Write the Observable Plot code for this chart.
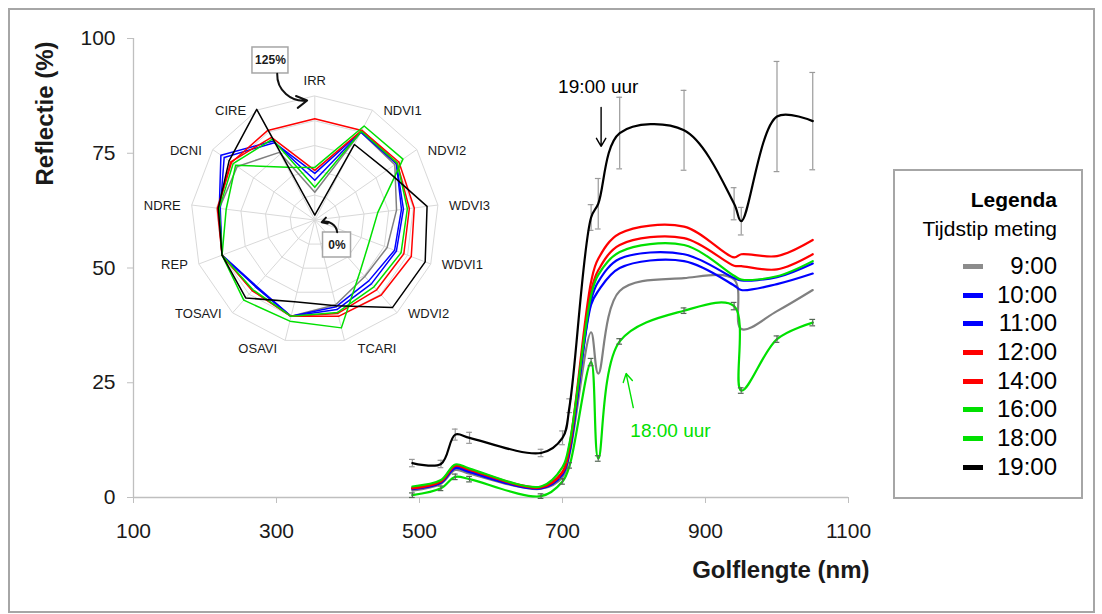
<!DOCTYPE html>
<html><head><meta charset="utf-8">
<script src="https://cdn.jsdelivr.net/npm/d3@7"></script>
<script src="https://cdn.jsdelivr.net/npm/@observablehq/plot@0.6"></script>
<style>
body{margin:0;background:#fff;font-family:"Liberation Sans",Arial,Helvetica,sans-serif;}
#wrap{position:relative;width:1102px;height:614px;overflow:hidden;background:#fff}
#frame{position:absolute;left:8px;top:8px;width:1087px;height:605px;border:2px solid #a6a6a6;box-sizing:border-box}
#main{position:absolute;left:0;top:0}
#radar{position:absolute;left:130px;top:40px}
#legend{position:absolute;left:893px;top:169px;width:190px;height:330px;border:2px solid #a6a6a6;box-sizing:border-box;background:#fff;padding:14px 24px 0 0;color:#000}
.lh{font-weight:bold;font-size:21px;line-height:29px;text-align:right}
.ls{font-size:21px;line-height:29px;text-align:right;margin-bottom:9px}
.li{display:flex;justify-content:flex-end;align-items:center;height:28.7px;font-size:24px}
.sw{width:20px;height:5px;margin-right:11px}
.lt{width:63px;text-align:right;line-height:28.7px}
svg{overflow:visible}
</style></head><body>
<div id="wrap"><div id="frame"></div><div id="main"></div><div id="radar"></div><div id="legend"></div></div>
<script>
const FONT = '"Liberation Sans", Arial, Helvetica, sans-serif';

// ---- data ----
const times = ["9:00","10:00","11:00","12:00","14:00","16:00","18:00","19:00"];
const colors = ["#808080","#0000ff","#0000ff","#ff0000","#ff0000","#00e000","#00e000","#000000"];
const xTicks = [100, 300, 500, 700, 900, 1100];
const yTicks = [0, 25, 50, 75, 100];

const wavelengths = [490, 530, 550, 570, 670, 700, 710, 740, 750, 780, 870, 940, 950, 1000, 1050];
const r0900 = [1.5, 3.0, 6.0, 5.2, 1.9, 4.4, 9.5, 36.0, 27.0, 45.0, 47.8, 47.5, 36.7, 40.6, 45.2];
const r1000 = [1.8, 3.2, 6.4, 5.5, 2.0, 5.0, 10.0, 42.0, 45.0, 50.0, 51.5, 46.2, 45.2, 46.5, 48.8];
const r1100 = [2.0, 3.4, 6.7, 5.8, 2.1, 5.2, 10.5, 43.0, 47.0, 52.0, 53.0, 47.8, 47.3, 48.0, 51.0];
const r1200 = [2.0, 3.5, 6.9, 6.0, 2.2, 5.5, 11.0, 45.0, 49.5, 55.0, 56.5, 50.5, 50.4, 49.7, 53.0];
const r1400 = [2.1, 3.6, 7.0, 6.1, 2.3, 5.6, 11.5, 47.0, 52.0, 57.5, 59.0, 52.3, 53.0, 52.6, 56.1];
const r1600 = [2.4, 3.8, 7.2, 6.3, 2.4, 6.6, 12.0, 44.0, 48.5, 53.5, 55.0, 48.3, 47.5, 48.2, 51.5];
const r1800 = [0.5, 2.0, 4.5, 4.0, 0.3, 3.5, 7.0, 29.5, 8.5, 34.0, 40.7, 41.7, 23.3, 34.5, 38.1];
const r1900 = [7.5, 7.3, 13.7, 13.0, 9.7, 13.0, 20.0, 61.0, 64.0, 79.4, 80.0, 64.0, 60.2, 83.0, 82.0];
const e1800 = [0.5, 0.5, 0.6, 0.6, 0.5, 0.6, 0.6, 0.8, 0.6, 0.6, 0.6, 0.8, 0.6, 0.7, 0.7];
const e1900 = [0.8, 0.8, 1.2, 1.2, 0.8, 1.5, 1.5, 2.8, 5.5, 7.8, 8.7, 3.5, 3.0, 12.0, 10.6];
const spectra = [r0900, r1000, r1100, r1200, r1400, r1600, r1800, r1900];

const radarAxes = ["IRR","NDVI1","NDVI2","WDVI3","WDVI1","WDVI2","TCARI","OSAVI","TOSAVI","REP","NDRE","DCNI","CIRE"];
const q0900 = [28, 100, 98, 83, 78, 76, 88, 100, 90, 100, 97, 95, 77];
const q1000 = [40, 100, 100, 88, 86, 82, 90, 100, 89, 100, 97, 115, 90];
const q1100 = [47, 101, 100, 90, 88, 86, 93, 100, 90, 100, 96, 111, 88];
const q1200 = [50, 102, 101, 96, 96, 94, 97, 100, 95, 100, 98, 103, 94];
const q1400 = [102, 102, 103, 101, 104, 101, 100, 100, 95, 100, 99, 102, 102];
const q1600 = [33, 101, 101, 94, 93, 90, 96, 100, 94, 100, 97, 100, 92];
const q1800 = [53, 107, 108, 64, 59, 69, 112, 105, 108, 100, 90, 97, 60];
const q1900 = [5, 86, 88, 114, 119, 118, 89, 85, 105, 100, 98, 105, 126];
const radarSeries = [q0900, q1000, q1100, q1200, q1400, q1600, q1800, q1900];
const radarRings = [25, 50, 75, 100, 125];

// annotations (data units)
const mainNotes = [
  {label: "19:00 uur", color: "#000000", tx: 750, ty: 89.5, x1: 754, y1: 85, x2: 754, y2: 76.5},
  {label: "18:00 uur", color: "#00e000", tx: 851, ty: 14.6, x1: 799, y1: 19.6, x2: 789, y2: 27.0}
];
const radarNotes = [
  {label: "125%", bx: -44.7, by: 160.8, w: 36, h: 26, x1: -37.9, y1: 147.4, x2: -7.7, y2: 120.5},
  {label: "0%", bx: 22.4, by: -25.2, w: 28, h: 25, x1: 22.6, y1: -12.3, x2: 7.0, y2: -2.2}
];

// ---- main chart ----
const errRows = (vals, errs) => wavelengths.map((w, j) => ({nm: w, lo: vals[j] - errs[j], hi: vals[j] + errs[j]}));
const err19 = errRows(r1900, e1900);
const err18 = errRows(r1800, e1800);
const errMarks = (rows, c) => [
  Plot.ruleX(rows, {x: "nm", y1: "lo", y2: "hi", stroke: c, strokeWidth: 1.2}),
  Plot.ruleY(rows, {y: "lo", x1: d => d.nm - 4, x2: d => d.nm + 4, stroke: c, strokeWidth: 1.2}),
  Plot.ruleY(rows, {y: "hi", x1: d => d.nm - 4, x2: d => d.nm + 4, stroke: c, strokeWidth: 1.2})
];

const main = Plot.plot({
  width: 1102, height: 614,
  marginLeft: 133, marginRight: 254, marginTop: 38, marginBottom: 117,
  x: {domain: [100, 1100]},
  y: {domain: [0, 100]},
  style: {background: "transparent", fontFamily: FONT, color: "#1a1a1a", overflow: "visible"},
  marks: [
    Plot.ruleY([0], {stroke: "#bfbfbf", strokeWidth: 1.3}),
    Plot.ruleX([100], {stroke: "#bfbfbf", strokeWidth: 1.3}),
    Plot.axisX(xTicks, {tickSize: 6, tickPadding: 20, stroke: "#bfbfbf", fill: "#1a1a1a", fontSize: 21, tickFormat: d => String(d), label: null}),
    Plot.axisY(yTicks, {tickSize: 6, tickPadding: 12, stroke: "#bfbfbf", fill: "#1a1a1a", fontSize: 21, tickFormat: d => String(d), label: null}),
    Plot.text(["Reflectie (%)"], {text: d => d, frameAnchor: "top-left", textAnchor: "middle", lineAnchor: "middle", dx: -88, dy: 75, rotate: -90, fontWeight: "bold", fontSize: 24, fill: "#1a1a1a"}),
    Plot.text(["Golflengte (nm)"], {text: d => d, frameAnchor: "bottom-right", textAnchor: "end", lineAnchor: "middle", dx: 21, dy: 73, fontWeight: "bold", fontSize: 24, fill: "#1a1a1a"}),
    ...errMarks(err19, "#9a9a9a"),
    ...spectra.map((s, i) => Plot.line(wavelengths, {x: d => d, y: (d, j) => s[j], stroke: colors[i], strokeWidth: 2.2, curve: "catmull-rom"})),
    ...errMarks(err18, "#556655"),
    Plot.text(mainNotes, {x: "tx", y: "ty", text: "label", fill: "color", fontSize: 19}),
    Plot.arrow(mainNotes, {x1: "x1", y1: "y1", x2: "x2", y2: "y2", stroke: "color", strokeWidth: 1.4, headLength: 10})
  ]
});
document.getElementById("main").appendChild(main);

// ---- radar ----
const N = radarAxes.length;
const ang = i => i * 2 * Math.PI / N;
const px = (v, i) => v * Math.sin(ang(i));
const py = (v, i) => v * Math.cos(ang(i));
const ringRows = radarRings.flatMap(v => radarAxes.map((a, i) => ({ring: v, x: px(v, i), y: py(v, i)})));
const labelRows = radarAxes.map((a, i) => ({a, s: Math.sin(ang(i)), c: Math.cos(ang(i)), x: px(125, i), y: py(125, i)}));
const K = 124 / 125;
const RW = 380, RH = 330, CX = 184.3, CY = 179.5;

const radar = Plot.plot({
  width: RW, height: RH, margin: 0,
  x: {domain: [-CX / K, (RW - CX) / K], axis: null},
  y: {domain: [-(RH - CY) / K, CY / K], axis: null},
  style: {background: "transparent", fontFamily: FONT, overflow: "visible"},
  marks: [
    Plot.line(ringRows, {x: "x", y: "y", z: "ring", curve: "linear-closed", stroke: "#d9d9d9", strokeWidth: 1}),
    Plot.link(labelRows, {x1: () => 0, y1: () => 0, x2: "x", y2: "y", stroke: "#d9d9d9", strokeWidth: 1}),
    ...radarSeries.map((s, k) => Plot.line(s, {x: (v, i) => px(v, i), y: (v, i) => py(v, i), curve: "linear-closed", stroke: colors[k], strokeWidth: 1.5})),
    Plot.text(labelRows.filter(d => Math.abs(d.s) < 0.1), {x: "x", y: "y", text: "a", textAnchor: "middle", dy: -15, fontSize: 13, fill: "#1a1a1a"}),
    Plot.text(labelRows.filter(d => d.s > 0.1 && d.c > -0.9), {x: "x", y: "y", text: "a", textAnchor: "start", dx: 11, dy: 1, fontSize: 13, fill: "#1a1a1a"}),
    Plot.text(labelRows.filter(d => d.s < -0.1 && d.c > -0.9), {x: "x", y: "y", text: "a", textAnchor: "end", dx: -11, dy: 1, fontSize: 13, fill: "#1a1a1a"}),
    Plot.text(labelRows.filter(d => d.s > 0.1 && d.c <= -0.9), {x: "x", y: "y", text: "a", textAnchor: "start", dx: 13, dy: 8, fontSize: 13, fill: "#1a1a1a"}),
    Plot.text(labelRows.filter(d => d.s < -0.1 && d.c <= -0.9), {x: "x", y: "y", text: "a", textAnchor: "end", dx: -8, dy: 8, fontSize: 13, fill: "#1a1a1a"}),
    Plot.rect(radarNotes, {x1: d => d.bx - d.w / 2 / K, x2: d => d.bx + d.w / 2 / K, y1: d => d.by - d.h / 2 / K, y2: d => d.by + d.h / 2 / K, fill: "#fff", stroke: "#a6a6a6", strokeWidth: 1.5}),
    Plot.text(radarNotes, {x: "bx", y: "by", text: "label", fontWeight: "bold", fontSize: 12, fill: "#1a1a1a"}),
    Plot.arrow(radarNotes, {x1: "x1", y1: "y1", x2: "x2", y2: "y2", bend: -50, stroke: "#111", strokeWidth: 2, headLength: 9})
  ]
});
document.getElementById("radar").appendChild(radar);

// ---- legend ----
const legend = document.getElementById("legend");
legend.innerHTML = `<div class="lh">Legenda</div><div class="ls">Tijdstip meting</div>` +
  times.map((t, i) => `<div class="li"><span class="sw" style="background:${colors[i] === "#808080" ? "#8c8c8c" : colors[i]}"></span><span class="lt">${t}</span></div>`).join("");
</script>
</body></html>
